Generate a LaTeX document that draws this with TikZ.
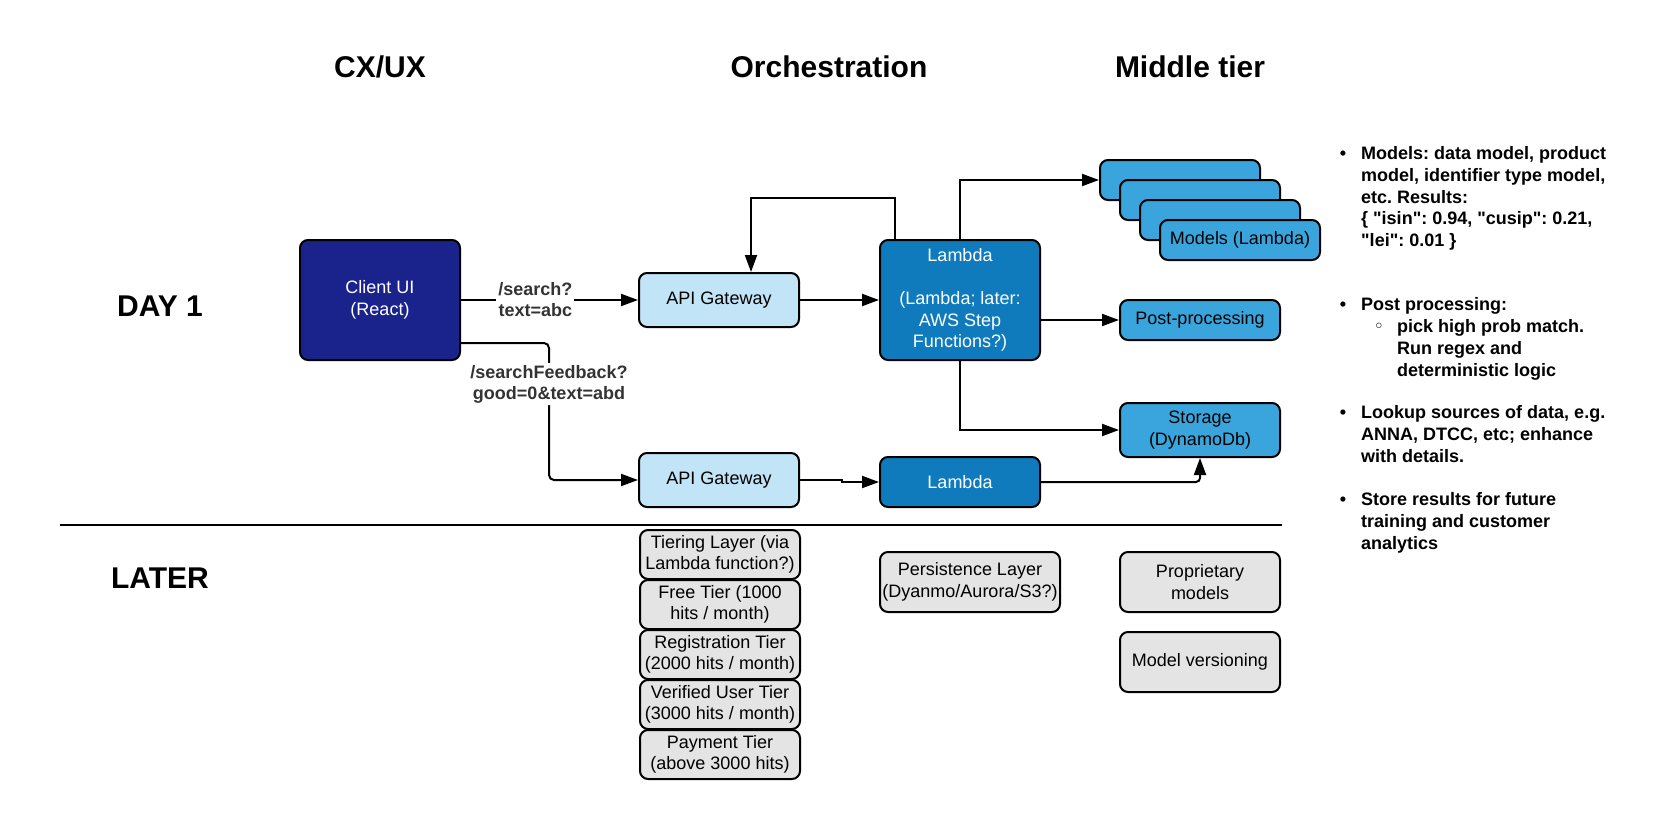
\documentclass[tikz,border=0pt]{standalone}
\usepackage{fontspec}
\setmainfont{Liberation Sans}
\newfontfamily\symfont{DejaVu Sans}
\usetikzlibrary{arrows.meta,calc}
\definecolor{navy}{RGB}{26,35,139}
\definecolor{gwblue}{RGB}{194,228,247}
\definecolor{lamblue}{RGB}{15,123,189}
\definecolor{midblue}{RGB}{58,165,220}
\definecolor{greybox}{RGB}{228,228,228}
\definecolor{lblgray}{RGB}{51,51,51}
\newcommand\boxfont{\fontsize{18}{21.5}\selectfont}
\newcommand\lblfont{\fontsize{18}{21}\selectfont\bfseries}
\newcommand\ttlfont{\fontsize{30}{36}\selectfont\bfseries}
\newcommand\notefont{\fontsize{18}{21.7}\selectfont\bfseries\frenchspacing}
\newcommand\sdq{{\XeTeXglyph\XeTeXcharglyph34\relax}}
\begin{document}
\frenchspacing
\begin{tikzpicture}[x=1pt,y=-1pt,
  box/.style={draw=black, line width=2pt, rounded corners=8pt, align=center, font=\boxfont, inner sep=2pt, text=black},
  arr/.style={draw=black, line width=2pt, -{Triangle[length=17pt,width=12pt]}},
  lbl/.style={fill=white, font=\lblfont, text=lblgray, align=center, inner sep=2pt},
  ttl/.style={font=\ttlfont, text=black},
  note/.style={font=\notefont, align=left, inner sep=0pt, anchor=north west, text=black},
  bul/.style={font=\notefont, inner sep=0pt, anchor=base, text=black},
]
\useasboundingbox[fill=white] (0,0) rectangle (1660,822);

% titles
\node[ttl] (tcx) at (380,67) {CX/UX};
\node[ttl] (torch) at (829,67) {Orchestration};
\node[ttl] (tmid) at (1190,67) {Middle tier};
\node[ttl] (tday) at (160,306) {DAY 1};
\node[ttl] (tlater) at (160,578) {LATER};

% day 1 boxes
\node[box, fill=navy, text=white, minimum width=160pt, minimum height=120pt] (client) at (380,300) {Client UI\\(React)};
\node[box, fill=gwblue, minimum width=160pt, minimum height=54pt] (gw1) at (719,300) {API Gateway};
\node[box, fill=gwblue, minimum width=160pt, minimum height=54pt] (gw2) at (719,480) {API Gateway};
\node[box, fill=lamblue, text=white, minimum width=160pt, minimum height=120pt] (lambda) at (960,300) {Lambda\\[21.5pt](Lambda; later:\\AWS Step\\Functions?)};
\node[box, fill=lamblue, text=white, minimum width=160pt, minimum height=50pt] (lambda2) at (960,482) {Lambda};
\node[box, fill=midblue, minimum width=160pt, minimum height=40pt] (m1) at (1180,180) {};
\node[box, fill=midblue, minimum width=160pt, minimum height=40pt] (m2) at (1200,200) {};
\node[box, fill=midblue, minimum width=160pt, minimum height=40pt] (m3) at (1220,220) {};
\node[box, fill=midblue, minimum width=160pt, minimum height=40pt] (m4) at (1240,240) {Models (Lambda)};
\node[box, fill=midblue, minimum width=160pt, minimum height=40pt] (post) at (1200,320) {Post-processing};
\node[box, fill=midblue, minimum width=160pt, minimum height=54pt] (storage) at (1200,430) {Storage\\(DynamoDb)};

% connectors
\draw[arr] (client.east) -- node[lbl, pos=0.42] (l1) {/search?\\text=abc} (gw1.west);
\coordinate (fbk) at (549,480);
\draw[arr, rounded corners=5pt] ([yshift=-43pt]client.east) -| node[lbl, pos=0.65] (l2) {/searchFeedback?\\good=0\&text=abd} (fbk) -- (gw2.west);
\draw[arr] (gw1.east) -- (lambda.west);
\draw[arr] ([xshift=16pt]lambda.north west) -- ++(0,-41) -| ([xshift=32pt]gw1.north);
\draw[arr] (lambda.north) |- (m1.west);
\draw[arr] (lambda.east |- post.west) -- (post.west);
\draw[arr] (lambda.south) |- (storage.west);
\draw[arr] (gw2.east) -- ++(42,0) |- (lambda2.west);
\draw[arr, rounded corners=4pt] (lambda2.east) -| (storage.south);

% separator
\coordinate (sepL) at (60,525);
\coordinate (sepR) at (1282,525);
\draw[line width=2pt] (sepL) -- (sepR);

% later boxes
\node[box, fill=greybox, minimum width=160pt, minimum height=49pt] (tier1) at (720,554.5) {Tiering Layer (via\\Lambda function?)};
\node[box, fill=greybox, minimum width=160pt, minimum height=49pt] (tier2) at (720,604.5) {Free Tier (1000\\hits / month)};
\node[box, fill=greybox, minimum width=160pt, minimum height=49pt] (tier3) at (720,654.5) {Registration Tier\\(2000 hits / month)};
\node[box, fill=greybox, minimum width=160pt, minimum height=49pt] (tier4) at (720,704.5) {Verified User Tier\\(3000 hits / month)};
\node[box, fill=greybox, minimum width=160pt, minimum height=49pt] (tier5) at (720,754.5) {Payment Tier\\(above 3000 hits)};
\node[box, fill=greybox, minimum width=180pt, minimum height=60pt] (persist) at (970,582) {Persistence Layer\\(Dyanmo/Aurora/S3?)};
\node[box, fill=greybox, minimum width=160pt, minimum height=60pt] (prop) at (1200,582) {Proprietary\\models};
\node[box, fill=greybox, minimum width=160pt, minimum height=60pt] (vers) at (1200,662) {Model versioning};

% notes
\node[bul] (b1) at (1343,159.5) {•};
\node[note] (n1) at (1361,146.5) {Models: data model, product\\model, identifier type model,\\etc. Results:\\\{ \sdq isin\sdq: 0.94, \sdq cusip\sdq: 0.21,\\\sdq lei\sdq: 0.01 \}};
\node[bul] (b2) at (1343,310.5) {•};
\node[note] (n2) at (1361,297.5) {Post processing:};
\node[bul] (b2s) at (1379,332.5) {\symfont\mdseries ◦};
\node[note] (n2s) at (1397,319.5) {pick high prob match.\\Run regex and\\deterministic logic};
\node[bul] (b3) at (1343,418.5) {•};
\node[note] (n3) at (1361,405.5) {Lookup sources of data, e.g.\\ANNA, DTCC, etc; enhance\\with details.};
\node[bul] (b4) at (1343,505.5) {•};
\node[note] (n4) at (1361,492.5) {Store results for future\\training and customer\\analytics};
\end{tikzpicture}
\end{document}
